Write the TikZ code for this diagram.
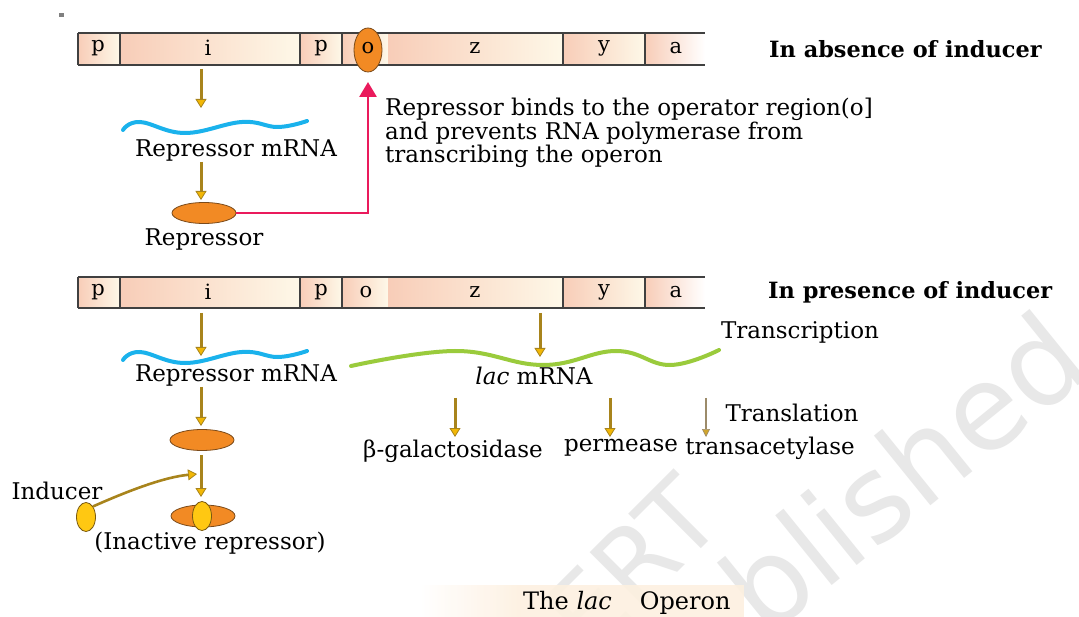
\documentclass[tikz,border=0pt]{standalone}
\usepackage{fontspec}
\setmainfont{DejaVu Serif}
\newfontfamily\wmfont{DejaVu Sans}
\usetikzlibrary{arrows.meta,shapes.geometric}
\definecolor{pinkc}{HTML}{F8CDB8}
\definecolor{creamc}{HTML}{FEF8E8}
\definecolor{bordc}{HTML}{404040}
\definecolor{orangec}{HTML}{F28A24}
\definecolor{orangeb}{HTML}{7A4A1A}
\definecolor{yellowc}{HTML}{FFC812}
\definecolor{yellowb}{HTML}{7A5A10}
\definecolor{bluec}{HTML}{1AB2EC}
\definecolor{greenc}{HTML}{9ACB3C}
\definecolor{redc}{HTML}{EA1A5C}
\definecolor{goldc}{HTML}{A8841C}
\definecolor{goldh}{HTML}{F2B705}
\definecolor{thinc}{HTML}{9C8B6A}
\definecolor{peachc}{HTML}{FDF0E0}
\definecolor{wmc}{HTML}{E8E8E8}
\tikzset{
  lbl/.style={font=\fontsize{23}{26}\selectfont, inner sep=0pt},
  hdr/.style={font=\fontsize{22.4}{26}\selectfont\bfseries, inner sep=0pt},
  cell/.style={font=\fontsize{21}{22}\selectfont, inner sep=0pt},
  goldarrow/.style={draw=goldc, line width=3pt, -{Triangle[width=11pt,length=9pt,fill=goldh,line width=0.8pt]}},
  thinarrow/.style={draw=thinc, line width=1.8pt, -{Triangle[width=8pt,length=8pt,fill=goldh!60!thinc,line width=0.6pt]}},
  redarrow/.style={draw=redc, line width=2.8pt, -{Triangle[width=17pt,length=15pt]}},
  repell/.style={ellipse, draw=orangeb, line width=0.8pt, fill=orangec, minimum width=64pt, minimum height=21pt, inner sep=0pt},
  indell/.style={ellipse, draw=yellowb, line width=0.8pt, fill=yellowc, minimum width=19pt, minimum height=29pt, inner sep=0pt},
  wave/.style={line width=4pt, line cap=round},
  wm/.style={font=\wmfont\fontsize{104}{104}\selectfont, text=wmc, inner sep=0pt}
}
\begin{document}
\begin{tikzpicture}[x=1pt,y=-1pt]
\useasboundingbox (0,0) rectangle (1079,617);
\fill[white] (0,0) rectangle (1079,617);
% watermark
\begin{scope}
\clip (0,0) rectangle (1079,617);
\node[wm, rotate=45, anchor=base west] (wm1) at (590,660) {ERT};
\node[wm, rotate=39, anchor=base west, font=\wmfont\fontsize{118}{118}\selectfont] (wm2) at (765,640) {blished};
\end{scope}
% small mark
\fill[gray] (59,13) rectangle (64,17);
% bars
\foreach \yt/\yb in {33/65, 277/308}{
  \foreach \xa/\xb in {78/120, 120/300, 300/342, 342/388, 388/563, 563/645}{
    \shade[left color=pinkc, right color=creamc] (\xa,\yt) rectangle (\xb,\yb);
  }
  \shade[left color=pinkc, right color=white] (645,\yt) rectangle (705,\yb);
  \draw[bordc, line width=1.6pt] (78,\yt) -- (705,\yt) (78,\yb) -- (705,\yb);
  \foreach \xa in {78,120,300,342,563,645}{
    \draw[bordc, line width=1.6pt] (\xa,\yt) -- (\xa,\yb);
  }
}
% top bar letters
\node[cell] (tp1) at (98,48) {p};
\node[cell] (ti) at (208,48) {i};
\node[cell] (tp2) at (321,48) {p};
\node[cell] (tz) at (475,48) {z};
\node[cell] (ty) at (604,48) {y};
\node[cell] (ta) at (676,48) {a};
\node[ellipse, draw=orangeb, line width=0.8pt, fill=orangec, minimum width=28pt, minimum height=44pt, inner sep=0pt] (op) at (368,50) {};
\node[cell] (to) at (368,48) {o};
% bottom bar letters
\node[cell] (bp1) at (98,292) {p};
\node[cell] (bi) at (208,292) {i};
\node[cell] (bp2) at (321,292) {p};
\node[cell] (bo) at (366,292) {o};
\node[cell] (bz) at (475,292) {z};
\node[cell] (by) at (604,292) {y};
\node[cell] (ba) at (676,292) {a};
% headings
\node[hdr, anchor=west] (abs) at (769,49) {In absence of inducer};
\node[hdr, anchor=west] (pres) at (768,292) {In presence of inducer};
% ---- top section
\coordinate (a1s) at (201,69);
\coordinate (a1e) at (201,108);
\draw[goldarrow] (a1s) -- (a1e);
\draw[bluec, wave] plot[smooth, tension=0.7] coordinates {(123,130) (140,122) (185,133) (242,122) (278,127) (307,121)};
\node[lbl] (rm1) at (236,151) {Repressor mRNA};
\coordinate (a2s) at (201,162);
\coordinate (a2e) at (201,200);
\draw[goldarrow] (a2s) -- (a2e);
\node[repell] (rep) at (204,213) {};
\node[lbl] (replbl) at (204,240) {Repressor};
\coordinate (optip) at (368,82);
\draw[redarrow] (rep.east) -| (optip);
\node[lbl, anchor=west, align=left, font=\fontsize{23}{21.5}\selectfont] (bindtxt) at (385,133) {Repressor binds to the operator region(o]\\and prevents RNA polymerase from\\transcribing the operon};
% ---- bottom section
\coordinate (a3s) at (201,313);
\coordinate (a3e) at (201,356);
\draw[goldarrow] (a3s) -- (a3e);
\draw[bluec, wave] plot[smooth, tension=0.7] coordinates {(123,360) (140,352) (185,363) (242,352) (278,357) (307,351)};
\node[lbl] (rm2) at (236,376) {Repressor mRNA};
\coordinate (a4s) at (201,387);
\coordinate (a4e) at (201,426);
\draw[goldarrow] (a4s) -- (a4e);
\node[repell] (rep2) at (202,440) {};
\coordinate (a5s) at (201,455);
\coordinate (a5e) at (201,497);
\draw[goldarrow] (a5s) -- (a5e);
\node[repell, minimum height=22pt] (inact) at (203,516) {};
\node[indell] (indb) at (202,516) {};
\node[lbl] (inactlbl) at (210,543) {(Inactive repressor)};
\node[indell] (ind) at (86,517) {};
\node[lbl] (indlbl) at (57,491) {Inducer};
\coordinate (indtip) at (197,474);
\draw[goldarrow, line width=2.6pt] (ind.north east) .. controls (130,490) and (165,477) .. (indtip);
% lac mRNA
\coordinate (a6s) at (540,313);
\coordinate (a6e) at (540,357);
\draw[greenc, wave] plot[smooth, tension=0.7] coordinates {(351,366) (455,351) (543,365) (616,351) (670,365) (719,350)};
\draw[goldarrow] (a6s) -- (a6e);
\node[lbl] (lacm) at (534,376) {\textit{lac} mRNA};
\node[lbl] (transc) at (800,332) {Transcription};
\coordinate (a7s) at (455,398);
\coordinate (a7e) at (455,437);
\draw[goldarrow] (a7s) -- (a7e);
\coordinate (a8s) at (610,398);
\coordinate (a8e) at (610,437);
\draw[goldarrow] (a8s) -- (a8e);
\coordinate (a9s) at (706,398);
\coordinate (a9e) at (706,437);
\draw[thinarrow] (a9s) -- (a9e);
\node[lbl] (transl) at (792,413) {Translation};
\node[lbl] (bgal) at (453,451) {β-galactosidase};
\node[lbl] (perm) at (621,448) {permease};
\node[lbl] (trans) at (770,448) {transacetylase};
% caption
\shade[left color=white, right color=peachc, opacity=0.9] (420,585) rectangle (520,617);
\fill[peachc, opacity=0.9] (520,585) rectangle (744,617);
\node[font=\fontsize{24}{26}\selectfont, inner sep=0pt, anchor=west] (cap) at (523,603) {The \textit{lac}\hspace{28pt}Operon};
\end{tikzpicture}
\end{document}
